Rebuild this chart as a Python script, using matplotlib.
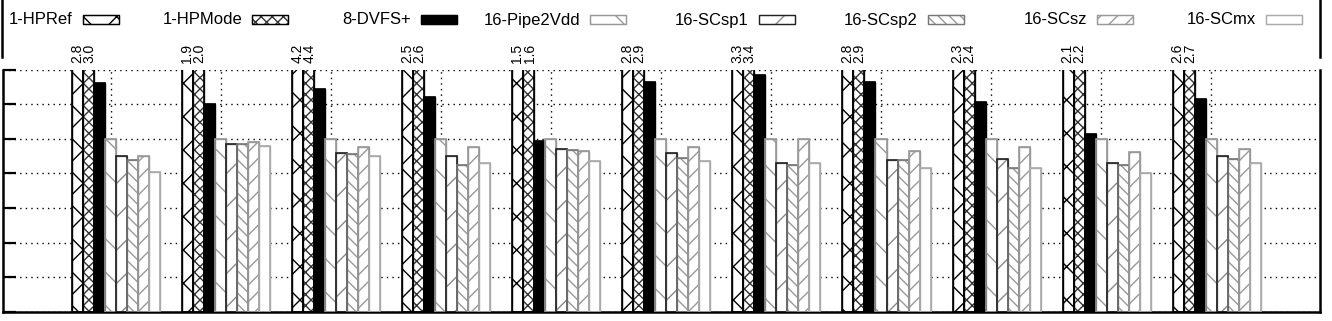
import numpy as np
import matplotlib.pyplot as plt
from matplotlib.patches import Rectangle
from matplotlib.lines import Line2D

plt.rcParams['font.family'] = ['Liberation Sans', 'DejaVu Sans']
plt.rcParams['hatch.linewidth'] = 1.0

# data (normalised, 11 benchmark groups)
names = ['1-HPRef', '1-HPMode', '8-DVFS+', '16-Pipe2Vdd', '16-SCsp1', '16-SCsp2', '16-SCsz', '16-SCmx']
hpref = [2.8, 1.9, 4.2, 2.5, 1.5, 2.8, 3.3, 2.8, 2.3, 2.1, 2.6]
hpmode = [3.0, 2.0, 4.4, 2.6, 1.6, 2.9, 3.4, 2.9, 2.4, 2.2, 2.7]
dvfs = [1.32, 1.20, 1.29, 1.24, 0.99, 1.33, 1.37, 1.33, 1.21, 1.03, 1.23]
pipe2vdd = [1.0, 1.0, 1.0, 1.0, 1.0, 1.0, 1.0, 1.0, 1.0, 1.0, 1.0]
scsp1 = [0.90, 0.97, 0.92, 0.90, 0.94, 0.92, 0.86, 0.88, 0.885, 0.86, 0.90]
scsp2 = [0.88, 0.97, 0.915, 0.85, 0.935, 0.89, 0.85, 0.875, 0.83, 0.85, 0.885]
scsz = [0.90, 0.98, 0.955, 0.95, 0.93, 0.95, 1.0, 0.93, 0.95, 0.925, 0.94]
scmx = [0.81, 0.96, 0.90, 0.86, 0.87, 0.87, 0.86, 0.83, 0.83, 0.80, 0.86]
series = [hpref, hpmode, dvfs, pipe2vdd, scsp1, scsp2, scsz, scmx]

# style per series: face, hatch, hatch colour, outline colour
styles = [
    ('white', 'x', 'black', 'black'),
    ('white', 'xxx', '#333333', 'black'),
    ('black', '', 'black', 'black'),
    ('white', '\\', '#999999', '#999999'),
    ('white', '/', '#888888', '#222222'),
    ('white', '\\\\\\', '#999999', '#777777'),
    ('white', '//', '#999999', '#999999'),
    ('white', '', '#aaaaaa', '#aaaaaa'),
]

W, H = 1332, 321
fig = plt.figure(figsize=(W / 100, H / 100), dpi=100)
ax = fig.add_axes([3 / W, (H - 312) / H, (1320 - 3) / W, (312 - 69.5) / H])

x = np.arange(len(hpref))
w = 0.1
for j, vals in enumerate(series):
    fc, hatch, hc, ec = styles[j]
    pos = x + (j - 3) * w
    ax.bar(pos, vals, w, color=fc, hatch=hatch, edgecolor=hc, linewidth=1.0, zorder=2)
    ax.bar(pos, vals, w, fill=False, edgecolor=ec, linewidth=1.2, zorder=3)

# value labels for the clipped bars
for j in (0, 1):
    for xi, v in zip(x + (j - 3) * w, series[j]):
        ax.annotate('%.1f' % v, (xi, 1.0), xycoords=('data', 'axes fraction'),
                    xytext=(-0.5 if j == 0 else 0.5, 5), textcoords='offset points', rotation=90,
                    ha='center', va='bottom', fontsize=10, annotation_clip=False)

ax.set_xlim(-0.98, 10.99)
ax.set_ylim(0, 1.4)
ax.set_yticks(np.arange(0, 1.41, 0.2))
ax.set_xticks(x)
ax.set_xticklabels([])
ax.set_yticklabels([])
ax.tick_params(axis='y', direction='in', length=9, width=1.6)
ax.tick_params(axis='x', length=0)
ax.grid(True, color='black', linestyle=(0, (1, 3)), linewidth=1.0, zorder=0)
ax.set_axisbelow(True)
ax.spines['top'].set_visible(False)
for s in ('left', 'right', 'bottom'):
    ax.spines[s].set_linewidth(1.8)

# legend row (gnuplot style: text then sample)
for i, name in enumerate(names):
    fc, hatch, hc, ec = styles[i]
    x0 = 83 + 169 * i
    fig.text((x0 - 10) / W, (H - 20) / H, name, ha='right', va='center', fontsize=12)
    fig.add_artist(Rectangle((x0 / W, (H - 24) / H), 36 / W, 9 / H, transform=fig.transFigure,
                             facecolor=fc, hatch=hatch, edgecolor=hc, linewidth=0.8))
    fig.add_artist(Rectangle((x0 / W, (H - 24) / H), 36 / W, 9 / H, transform=fig.transFigure,
                             fill=False, edgecolor=ec, linewidth=1.0))

# sides of the key frame
for xl in (2, 1320):
    fig.add_artist(Line2D([xl / W, xl / W], [(H - 57) / H, 1], transform=fig.transFigure,
                          color='black', linewidth=1.8))

fig.savefig('out.png', dpi=100)
